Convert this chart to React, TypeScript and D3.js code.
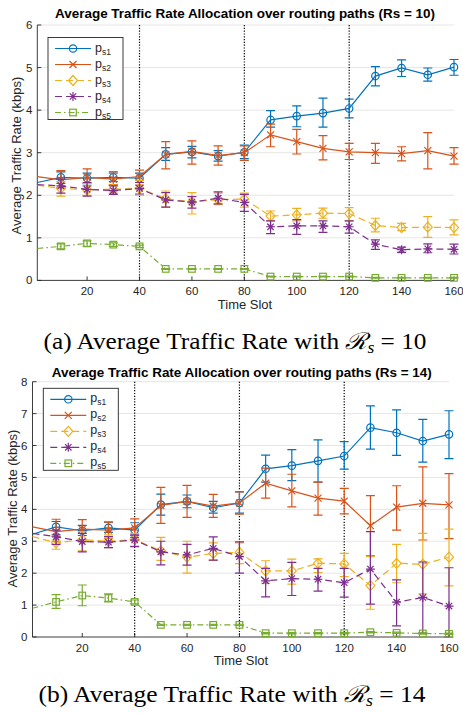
import React from "react";
import * as d3 from "d3";

// ---------- data ----------
const TIME = [1, 10, 20, 30, 40, 50, 60, 70, 80, 90, 100, 110, 120, 130, 140, 150, 160];
const X_TICKS = [20, 40, 60, 80, 100, 120, 140, 160];
const PHASE_LINES = [40, 80, 120];
const SERIES_LABELS = ["s1", "s2", "s3", "s4", "s5"];
const COLORS = ["#0072BD", "#D95319", "#EDB120", "#7E2F8E", "#77AC30"];

// Rs = 10
const A_PS1 = [2.30, 2.42, 2.40, 2.42, 2.40, 2.96, 3.02, 2.92, 3.01, 3.77, 3.86, 3.93, 4.04, 4.80, 4.99, 4.83, 5.01];
const A_PS1_LO = [null, 2.28, 2.27, 2.32, 2.30, 2.82, 2.88, 2.80, 2.86, 3.60, 3.61, 3.60, 3.82, 4.57, 4.79, 4.68, 4.82];
const A_PS1_HI = [null, 2.55, 2.52, 2.55, 2.52, 3.12, 3.15, 3.05, 3.18, 3.99, 4.10, 4.28, 4.26, 5.02, 5.18, 4.99, 5.19];
const A_PS2 = [2.44, 2.36, 2.42, 2.38, 2.44, 2.96, 3.03, 2.93, 3.00, 3.42, 3.26, 3.10, 3.02, 3.00, 2.98, 3.05, 2.92];
const A_PS2_LO = [null, 2.18, 2.22, 2.25, 2.24, 2.62, 2.73, 2.71, 2.82, 3.14, 2.97, 2.83, 2.84, 2.75, 2.81, 2.62, 2.73];
const A_PS2_HI = [null, 2.58, 2.62, 2.52, 2.59, 3.26, 3.28, 3.16, 3.16, 3.67, 3.55, 3.40, 3.22, 3.22, 3.14, 3.47, 3.12];
const A_PS3 = [2.24, 2.16, 2.13, 2.14, 2.16, 1.92, 1.84, 1.90, 1.91, 1.51, 1.54, 1.58, 1.57, 1.29, 1.24, 1.25, 1.24];
const A_PS3_LO = [null, 1.98, 2.00, 2.05, 2.00, 1.72, 1.56, 1.78, 1.72, 1.40, 1.40, 1.46, 1.40, 1.14, 1.17, 1.01, 1.07];
const A_PS3_HI = [null, 2.32, 2.28, 2.24, 2.35, 2.10, 2.06, 2.05, 2.05, 1.63, 1.69, 1.70, 1.71, 1.46, 1.34, 1.50, 1.42];
const A_PS4 = [2.25, 2.22, 2.14, 2.11, 2.16, 1.89, 1.84, 1.93, 1.83, 1.26, 1.28, 1.28, 1.26, 0.85, 0.72, 0.74, 0.73];
const A_PS4_LO = [null, 2.05, 1.98, 2.02, 2.03, 1.72, 1.70, 1.80, 1.62, 1.10, 1.08, 1.13, 1.11, 0.73, 0.66, 0.65, 0.62];
const A_PS4_HI = [null, 2.38, 2.30, 2.22, 2.30, 2.06, 1.97, 2.08, 2.02, 1.40, 1.43, 1.40, 1.40, 0.95, 0.78, 0.86, 0.85];
const A_PS5 = [0.75, 0.80, 0.87, 0.84, 0.80, 0.27, 0.27, 0.27, 0.27, 0.09, 0.09, 0.09, 0.09, 0.06, 0.06, 0.06, 0.06];
const A_PS5_LO = [null, 0.74, 0.80, 0.80, 0.77, 0.26, 0.26, 0.26, 0.26, 0.08, 0.08, 0.08, 0.08, 0.05, 0.05, 0.05, 0.05];
const A_PS5_HI = [null, 0.86, 0.93, 0.88, 0.83, 0.28, 0.28, 0.28, 0.28, 0.10, 0.10, 0.10, 0.10, 0.07, 0.07, 0.07, 0.07];

// Rs = 14
const B_PS1 = [3.22, 3.45, 3.33, 3.42, 3.35, 4.15, 4.25, 4.05, 4.20, 5.27, 5.37, 5.52, 5.67, 6.56, 6.40, 6.14, 6.35];
const B_PS1_LO = [null, 3.20, 3.18, 3.28, 3.12, 3.82, 4.05, 3.88, 3.88, 4.85, 4.90, 4.85, 5.26, 5.89, 5.69, 5.48, 5.59];
const B_PS1_HI = [null, 3.62, 3.50, 3.60, 3.58, 4.48, 4.45, 4.25, 4.55, 5.70, 5.87, 6.18, 6.12, 7.24, 7.12, 6.82, 7.09];
const B_PS2 = [3.45, 3.30, 3.38, 3.35, 3.42, 4.12, 4.25, 4.10, 4.20, 4.82, 4.58, 4.35, 4.26, 3.49, 4.07, 4.19, 4.14];
const B_PS2_LO = [null, 3.00, 3.05, 3.10, 3.18, 3.56, 3.75, 3.75, 3.85, 4.35, 4.08, 3.82, 3.86, 2.54, 3.35, 3.04, 3.08];
const B_PS2_HI = [null, 3.69, 3.68, 3.60, 3.70, 4.69, 4.75, 4.47, 4.55, 5.29, 5.10, 4.85, 4.66, 4.43, 4.74, 5.33, 5.12];
const B_PS3 = [3.15, 2.95, 3.05, 3.00, 3.05, 2.70, 2.50, 2.62, 2.65, 2.07, 2.07, 2.31, 2.29, 1.61, 2.31, 2.28, 2.50];
const B_PS3_LO = [null, 2.75, 2.70, 2.80, 2.85, 2.40, 2.00, 2.40, 2.30, 1.68, 1.66, 2.02, 1.89, 0.87, 1.70, 1.35, 1.60];
const B_PS3_HI = [null, 3.15, 3.30, 3.20, 3.25, 3.12, 3.00, 2.95, 2.95, 2.39, 2.44, 2.45, 2.62, 2.52, 2.90, 3.25, 3.38];
const B_PS4 = [3.25, 3.14, 2.99, 2.97, 3.04, 2.67, 2.57, 2.78, 2.52, 1.76, 1.83, 1.81, 1.70, 2.13, 1.09, 1.24, 0.97];
const B_PS4_LO = [null, 2.90, 2.67, 2.80, 2.83, 2.26, 2.25, 2.41, 2.00, 1.26, 1.30, 1.44, 1.25, 1.03, 0.35, 0.12, 0.00];
const B_PS4_HI = [null, 3.35, 3.25, 3.15, 3.20, 3.00, 2.90, 3.14, 2.98, 2.15, 2.34, 2.15, 2.15, 3.30, 1.79, 2.35, 2.17];
const B_PS5 = [0.90, 1.10, 1.30, 1.22, 1.10, 0.38, 0.38, 0.38, 0.38, 0.12, 0.12, 0.12, 0.12, 0.15, 0.13, 0.11, 0.10];
const B_PS5_LO = [null, 0.90, 0.98, 1.10, 1.04, 0.36, 0.36, 0.36, 0.36, 0.10, 0.10, 0.10, 0.10, 0.13, 0.11, 0.09, 0.08];
const B_PS5_HI = [null, 1.33, 1.63, 1.35, 1.16, 0.40, 0.40, 0.40, 0.40, 0.14, 0.14, 0.14, 0.14, 0.17, 0.15, 0.13, 0.12];

const A_VALUES = [A_PS1, A_PS2, A_PS3, A_PS4, A_PS5];
const A_LO = [A_PS1_LO, A_PS2_LO, A_PS3_LO, A_PS4_LO, A_PS5_LO];
const A_HI = [A_PS1_HI, A_PS2_HI, A_PS3_HI, A_PS4_HI, A_PS5_HI];
const B_VALUES = [B_PS1, B_PS2, B_PS3, B_PS4, B_PS5];
const B_LO = [B_PS1_LO, B_PS2_LO, B_PS3_LO, B_PS4_LO, B_PS5_LO];
const B_HI = [B_PS1_HI, B_PS2_HI, B_PS3_HI, B_PS4_HI, B_PS5_HI];

// ---------- styles ----------
const MARKERS = ["circle", "x", "diamond", "asterisk", "square"];
const DASHES = [undefined, undefined, "7,4", "7,4", "6,3,1.5,3"];
const AXIS = "#262626";
const GRID = "#e6e6e6";
const SANS = "'Liberation Sans', Arial, Helvetica, sans-serif";
const SERIF = "'Liberation Serif', 'Times New Roman', serif";
const LW = 1.2;

function Marker({ kind, x, y, color }: { kind: string; x: number; y: number; color: string }) {
  const p = { stroke: color, strokeWidth: LW, fill: "none" };
  if (kind === "circle") return <circle cx={x} cy={y} r={3.7} {...p} />;
  if (kind === "x")
    return (
      <path d={`M${x - 3.5},${y - 3.5}L${x + 3.5},${y + 3.5}M${x - 3.5},${y + 3.5}L${x + 3.5},${y - 3.5}`} {...p} />
    );
  if (kind === "diamond")
    return <path d={`M${x},${y - 5}L${x + 4.5},${y}L${x},${y + 5}L${x - 4.5},${y}Z`} {...p} />;
  if (kind === "asterisk")
    return (
      <path
        d={`M${x - 4.5},${y}L${x + 4.5},${y}M${x},${y - 4.5}L${x},${y + 4.5}M${x - 3.2},${y - 3.2}L${x + 3.2},${y + 3.2}M${x - 3.2},${y + 3.2}L${x + 3.2},${y - 3.2}`}
        {...p}
      />
    );
  return <rect x={x - 3.3} y={y - 3.3} width={6.6} height={6.6} {...p} />;
}

type PanelProps = {
  left: number;
  right: number;
  top: number;
  bottom: number;
  yMax: number;
  values: number[][];
  lo: (number | null)[][];
  hi: (number | null)[][];
  title: string;
  titleX: number;
  titleY: number;
  yLabelX: number;
  yLabelY: number;
  xLabelX: number;
  xLabelY: number;
  legendX: number;
  legendY: number;
};

function Panel(props: PanelProps) {
  const { left, right, top, bottom, yMax, values, lo, hi } = props;
  const x = d3.scaleLinear().domain([1, 160]).range([left, right]);
  const y = d3.scaleLinear().domain([0, yMax]).range([bottom, top]);
  const yTicks = d3.range(0, yMax + 1);
  const line = d3
    .line<number>()
    .x((_, i) => x(TIME[i]))
    .y((d) => y(d));
  const cap = 4.5;
  return (
    <g>
      {yTicks
        .filter((t) => t > 0)
        .map((t) => (
          <line key={"g" + t} x1={left} x2={right} y1={y(t)} y2={y(t)} stroke={GRID} strokeWidth={1} />
        ))}
      {PHASE_LINES.map((t) => (
        <line key={"v" + t} x1={x(t)} x2={x(t)} y1={top} y2={bottom} stroke="#000" strokeWidth={1.2} strokeDasharray="1.2,1.6" />
      ))}
      <line x1={left} x2={left} y1={top} y2={bottom} stroke={AXIS} strokeWidth={0.9} />
      <line x1={left} x2={right} y1={bottom} y2={bottom} stroke={AXIS} strokeWidth={0.9} />
      {yTicks.map((t) => (
        <g key={"yt" + t}>
          <line x1={left} x2={left + 4} y1={y(t)} y2={y(t)} stroke={AXIS} strokeWidth={0.9} />
          <text x={left - 5} y={y(t) + 4} textAnchor="end" fontFamily={SANS} fontSize={11.5} fill={AXIS}>
            {t}
          </text>
        </g>
      ))}
      {X_TICKS.map((t) => (
        <g key={"xt" + t}>
          <line x1={x(t)} x2={x(t)} y1={bottom} y2={bottom - 4} stroke={AXIS} strokeWidth={0.9} />
          <text x={x(t)} y={bottom + 15} textAnchor="middle" fontFamily={SANS} fontSize={11.5} fill={AXIS}>
            {t}
          </text>
        </g>
      ))}
      {values.map((vals, s) => (
        <g key={"s" + s}>
          <path d={line(vals) || ""} fill="none" stroke={COLORS[s]} strokeWidth={LW} strokeDasharray={DASHES[s]} />
          {vals.map((v, i) => {
            const l = lo[s][i];
            const h = hi[s][i];
            if (l === null || h === null) return null;
            const cx = x(TIME[i]);
            return (
              <g key={"e" + i}>
                <path
                  d={`M${cx},${y(l)}L${cx},${y(h)}M${cx - cap},${y(l)}L${cx + cap},${y(l)}M${cx - cap},${y(h)}L${cx + cap},${y(h)}`}
                  stroke={COLORS[s]}
                  strokeWidth={LW}
                  fill="none"
                />
                <Marker kind={MARKERS[s]} x={cx} y={y(v)} color={COLORS[s]} />
              </g>
            );
          })}
        </g>
      ))}
      {/* legend */}
      <g transform={`translate(${props.legendX},${props.legendY})`}>
        <rect x={0} y={0} width={75} height={82} fill="#fff" stroke={AXIS} strokeWidth={0.9} />
        {SERIES_LABELS.map((lab, s) => {
          const ly = 11 + s * 16;
          return (
            <g key={"l" + s}>
              <line x1={7} x2={43} y1={ly} y2={ly} stroke={COLORS[s]} strokeWidth={LW} strokeDasharray={DASHES[s]} />
              <Marker kind={MARKERS[s]} x={25} y={ly} color={COLORS[s]} />
              <text x={47} y={ly + 3} fontFamily={SANS} fontSize={12.5} fill={AXIS}>
                p
                <tspan fontSize={8.5} dy={3}>
                  {lab}
                </tspan>
              </text>
            </g>
          );
        })}
      </g>
      <text
        x={props.titleX}
        y={props.titleY}
        textAnchor="middle"
        fontFamily={SANS}
        fontWeight="bold"
        fontSize={13}
        fill="#000"
        textLength={380}
        lengthAdjust="spacingAndGlyphs"
      >
        {props.title}
      </text>
      <text
        transform={`translate(${props.yLabelX},${props.yLabelY}) rotate(-90)`}
        textAnchor="middle"
        fontFamily={SANS}
        fontSize={13}
        fill={AXIS}
      >
        Average Traffic Rate (kbps)
      </text>
      <text x={props.xLabelX} y={props.xLabelY} textAnchor="middle" fontFamily={SANS} fontSize={13} fill={AXIS}>
        Time Slot
      </text>
    </g>
  );
}

function Caption({ x, y, letter, value, width }: { x: number; y: number; letter: string; value: string; width: number }) {
  return (
    <text
      x={x}
      y={y}
      fontFamily={SERIF}
      fontSize={23}
      fill="#000"
      textLength={width}
      lengthAdjust="spacingAndGlyphs"
    >
      {`(${letter}) Average Traffic Rate with `}
      <tspan fontFamily="'DejaVu Serif', serif" fontStyle="italic">
        ℛ
      </tspan>
      <tspan fontSize={16} fontStyle="italic" dy={4}>
        s
      </tspan>
      <tspan dy={-4}>{` = ${value}`}</tspan>
    </text>
  );
}

export default function App() {
  return (
    <svg width={463} height={713} style={{ position: "absolute", left: 0, top: 0, background: "#fff" }}>
      <rect width={463} height={713} fill="#fff" />
      <Panel
        left={37.3}
        right={454}
        top={25}
        bottom={280.4}
        yMax={6}
        values={A_VALUES}
        lo={A_LO}
        hi={A_HI}
        title="Average Traffic Rate Allocation over routing paths (Rs = 10)"
        titleX={245}
        titleY={17.5}
        yLabelX={20.5}
        yLabelY={155.5}
        xLabelX={245}
        xLabelY={309}
        legendX={48}
        legendY={37.5}
      />
      <Caption x={43.5} y={349} letter="a" value="10" width={383} />
      <Panel
        left={32.5}
        right={449}
        top={381.7}
        bottom={637}
        yMax={8}
        values={B_VALUES}
        lo={B_LO}
        hi={B_HI}
        title="Average Traffic Rate Allocation over routing paths (Rs = 14)"
        titleX={241.7}
        titleY={376.5}
        yLabelX={16.5}
        yLabelY={508.5}
        xLabelX={241}
        xLabelY={665}
        legendX={43.3}
        legendY={388.3}
      />
      <Caption x={38.5} y={702} letter="b" value="14" width={387} />
    </svg>
  );
}
